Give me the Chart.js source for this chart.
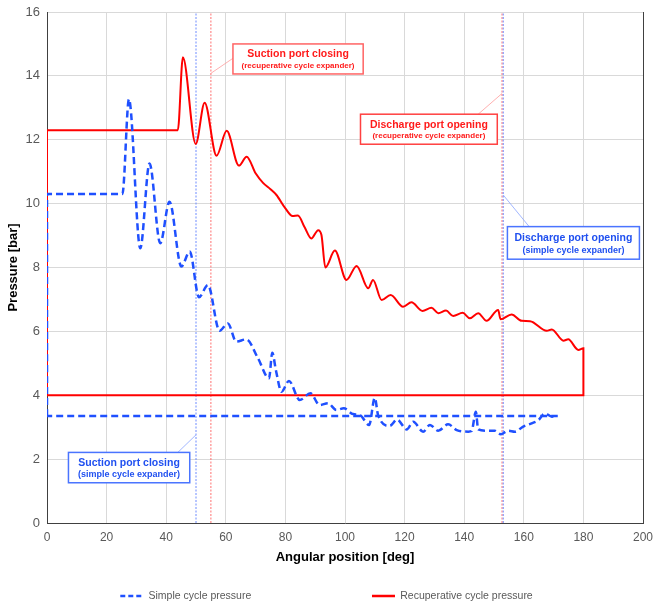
<!DOCTYPE html>
<html>
<head>
<meta charset="utf-8">
<script src="https://cdn.jsdelivr.net/npm/chart.js@4.4.1/dist/chart.umd.min.js"></script>
<style>
  html, body { margin: 0; padding: 0; background: #fff; }
</style>
</head>
<body>
<canvas id="pressure" width="653" height="601"></canvas>
<script>
/* Pressure vs angular position, simple and recuperative cycle expanders.
 * Both traces are closed loops (suction line, expansion, discharge line). */

const simpleAngle = [
	0, 0, 25.3, 27.5, 31.3, 34.4, 38.0, 41.1, 45.1, 47.9,
	51.0, 54.0, 57.9, 60.7, 63.5, 66.9, 70.8, 74.5, 75.6, 76.8,
	78.7, 81.2, 84.8, 88.4, 91.5, 94.3, 97.1, 99.6, 102.7, 105.0,
	108.1, 110.0, 111.1, 115.0, 117.5, 120.7, 122.9, 126.2, 128.5, 131.3,
	134.6, 137.5, 141.4, 142.5, 143.9, 144.7, 147.5, 150.3, 152.2, 154.8,
	157.0, 159.8, 162.6, 164.9, 167.1, 169.4, 171.4, 0
];
const simplePressure = [
	3.35, 10.3, 10.3, 13.27, 8.6, 11.26, 8.76, 10.06, 8.03, 8.5,
	7.07, 7.45, 6.02, 6.25, 5.68, 5.75, 5.16, 4.53, 5.33, 4.79,
	4.11, 4.45, 3.85, 4.06, 3.69, 3.75, 3.54, 3.59, 3.41, 3.38,
	3.07, 3.92, 3.38, 3.04, 3.24, 2.93, 3.17, 2.86, 3.07, 2.89,
	3.09, 2.91, 2.86, 2.88, 3.48, 2.93, 2.89, 2.89, 2.78, 2.89,
	2.86, 3.02, 3.12, 3.22, 3.43, 3.33, 3.35, 3.35
];

const recupAngle = [
	0, 0, 43.9, 45.6, 49.9, 52.9, 56.9, 60.3, 64.4, 67.0,
	70.0, 72.5, 75.0, 77.0, 80.0, 82.4, 84.2, 86.5, 88.7, 91.0,
	92.1, 93.4, 96.6, 100.5, 103.9, 107.8, 109.4, 112.3, 115.3, 119.5,
	122.3, 126.0, 129.0, 131.3, 133.9, 136.3, 139.5, 141.9, 144.7, 147.5,
	151.4, 152.2, 155.9, 159.3, 162.1, 167.7, 169.4, 173.3, 174.9, 178.3,
	180, 180, 0
];
const recupPressure = [
	4, 12.3, 12.3, 14.58, 11.87, 13.16, 11.5, 12.28, 11.19, 11.47,
	10.95, 10.65, 10.45, 10.27, 9.85, 9.61, 9.63, 9.25, 8.91, 9.17,
	9.02, 8.0, 8.53, 7.61, 8.05, 7.35, 7.61, 6.98, 7.14, 6.77,
	6.91, 6.64, 6.74, 6.57, 6.65, 6.48, 6.58, 6.41, 6.57, 6.33,
	6.67, 6.38, 6.53, 6.33, 6.32, 6.02, 6.06, 5.71, 5.75, 5.42,
	5.47, 4, 4
];

const seriesNames = ['Simple cycle pressure', 'Recuperative cycle pressure'];

// port timing markers [deg]
const simpleMarks = [50, 153.1];
const recupMarks  = [55, 152.7];

const noteTitles    = ['Suction port closing', 'Discharge port opening', 'Discharge port opening', 'Suction port closing'];
const noteSubtitles = ['(recuperative cycle expander)', '(recuperative cycle expander)', '(simple cycle expander)', '(simple cycle expander)'];

const X_MAX = 200;
const Y_MAX = 16;

const BLUE = '#1f50ff';
const RED  = '#ff0000';
const FONT = "'Liberation Sans', Arial, sans-serif";

// annotation boxes: [xLeft, xRight, yTop, yBottom] and leader line, in axis units
const noteLayout = [
	{ box: [62.4, 106.1, 15.0, 14.06],  from: [62.4, 14.55],  to: [55.0, 14.08],  text: '#ff1a1a', edge: '#ff6464', lead: '#ff9c9c', sub: 8 },
	{ box: [105.2, 151.1, 12.8, 11.86], from: [144.7, 12.8],  to: [152.7, 13.45], text: '#ff1a1a', edge: '#ff4040', lead: '#ff9c9c', sub: 8 },
	{ box: [154.5, 198.8, 9.28, 8.26],  from: [161.8, 9.28],  to: [153.1, 10.27], text: '#2050f0', edge: '#4a74ff', lead: '#8aa4ff', sub: 9 },
	{ box: [7.2, 47.9, 2.21, 1.26],     from: [43.9, 2.21],   to: [50.0, 2.76],   text: '#2050f0', edge: '#4a74ff', lead: '#8aa4ff', sub: 9 }
];

function to_points(xs, ys) {
	return xs.map((x, i) => ({ x: x, y: ys[i] }));
}

function mark_dataset(value, color) {
	return {
		data: [{ x: value, y: 0 }, { x: value, y: Y_MAX }],
		showLine: true,
		borderColor: color,
		borderWidth: 1,
		borderDash: [2, 1.5],
		pointRadius: 0,
		order: 2
	};
}

const notes_plugin = {
	id: 'notes',
	afterDatasetsDraw(chart) {
		const { ctx, scales: { x, y } } = chart;

		noteLayout.forEach((n, i) => {
			const left   = x.getPixelForValue(n.box[0]);
			const right  = x.getPixelForValue(n.box[1]);
			const top    = y.getPixelForValue(n.box[2]);
			const bottom = y.getPixelForValue(n.box[3]);
			const h = bottom - top;

			ctx.save();
			ctx.strokeStyle = n.lead;
			ctx.lineWidth = 0.8;
			ctx.beginPath();
			ctx.moveTo(x.getPixelForValue(n.from[0]), y.getPixelForValue(n.from[1]));
			ctx.lineTo(x.getPixelForValue(n.to[0]), y.getPixelForValue(n.to[1]));
			ctx.stroke();

			ctx.fillStyle = '#ffffff';
			ctx.fillRect(left, top, right - left, h);
			ctx.strokeStyle = n.edge;
			ctx.lineWidth = 1.5;
			ctx.strokeRect(left, top, right - left, h);

			ctx.fillStyle = n.text;
			ctx.textAlign = 'center';
			ctx.textBaseline = 'middle';
			ctx.font = `bold 10.5px ${FONT}`;
			ctx.fillText(noteTitles[i], (left + right) / 2, top + h * 0.35);
			ctx.font = `bold ${n.sub}px ${FONT}`;
			ctx.fillText(noteSubtitles[i], (left + right) / 2, top + h * 0.72);
			ctx.restore();
		});
	}
};

function legend_items(chart) {
	const ds = chart.data.datasets;
	const blank = () => ({ text: '', strokeStyle: 'rgba(0,0,0,0)', fillStyle: 'rgba(0,0,0,0)', lineWidth: 0, pointStyle: 'line', hidden: false, fontColor: '#595959' });
	const item = (i, dash) => ({
		text: ds[i].label,
		strokeStyle: ds[i].borderColor,
		fillStyle: ds[i].borderColor,
		lineWidth: 2.5,
		lineDash: dash,
		pointStyle: 'line',
		hidden: false,
		datasetIndex: i,
		fontColor: '#595959'
	});
	// blank entries only widen the gap between the two series, as in the source figure
	return [item(0, [5, 3]), blank(), blank(), blank(), item(1, [])];
}

Chart.defaults.font.family = FONT;
Chart.defaults.color = '#595959';

new Chart(document.getElementById('pressure'), {
	type: 'scatter',
	data: {
		datasets: [
			{
				label: seriesNames[0],
				data: to_points(simpleAngle, simplePressure),
				showLine: true,
				borderColor: BLUE,
				backgroundColor: BLUE,
				borderWidth: 2.5,
				borderDash: [7, 4],
				pointRadius: 0,
				cubicInterpolationMode: 'monotone',
				order: 0
			},
			{
				label: seriesNames[1],
				data: to_points(recupAngle, recupPressure),
				showLine: true,
				borderColor: RED,
				backgroundColor: RED,
				borderWidth: 2,
				pointRadius: 0,
				cubicInterpolationMode: 'monotone',
				order: 1
			},
			...simpleMarks.map(m => mark_dataset(m, '#6f8cff')),
			...recupMarks.map(m => mark_dataset(m, '#ff7070'))
		]
	},
	options: {
		responsive: false,
		animation: false,
		layout: { padding: { top: 12, left: 0, right: 0, bottom: 0 } },
		plugins: {
			tooltip: { enabled: false },
			legend: {
				position: 'bottom',
				maxHeight: 19.25,
				labels: {
					usePointStyle: true,
					pointStyle: 'line',
					pointStyleWidth: 23,
					padding: 9,
					font: { size: 10.5 },
					generateLabels: legend_items
				}
			}
		},
		scales: {
			x: {
				type: 'linear',
				min: 0,
				max: X_MAX,
				afterFit: (axis) => {
					axis.height = 58.75;
					axis.paddingLeft = 0;
					axis.paddingRight = 0;
				},
				ticks: { stepSize: 20, padding: 7, font: { size: 12 }, color: '#595959' },
				grid: { color: '#d9d9d9', drawTicks: false },
				border: { color: '#404040' },
				title: { display: true, text: 'Angular position [deg]', color: '#000', font: { size: 13, weight: 'bold' }, padding: { top: 4, bottom: 17 } }
			},
			y: {
				min: 0,
				max: Y_MAX,
				afterFit: (axis) => {
					axis.width = 47;
					axis.paddingTop = 0;
					axis.paddingBottom = 0;
				},
				ticks: { stepSize: 2, padding: 7, font: { size: 13 }, color: '#595959' },
				grid: { color: '#d9d9d9', drawTicks: false },
				border: { color: '#404040' },
				title: { display: true, text: 'Pressure [bar]', color: '#000', font: { size: 13, weight: 'bold' }, padding: { top: 6, bottom: 0 } }
			},
			frame: {
				position: 'right',
				min: 0,
				max: Y_MAX,
				afterFit: (axis) => { axis.width = 10; },
				ticks: { display: false },
				grid: { display: false, drawTicks: false },
				border: { display: true, color: '#404040' }
			}
		}
	},
	plugins: [notes_plugin]
});
</script>
</body>
</html>
